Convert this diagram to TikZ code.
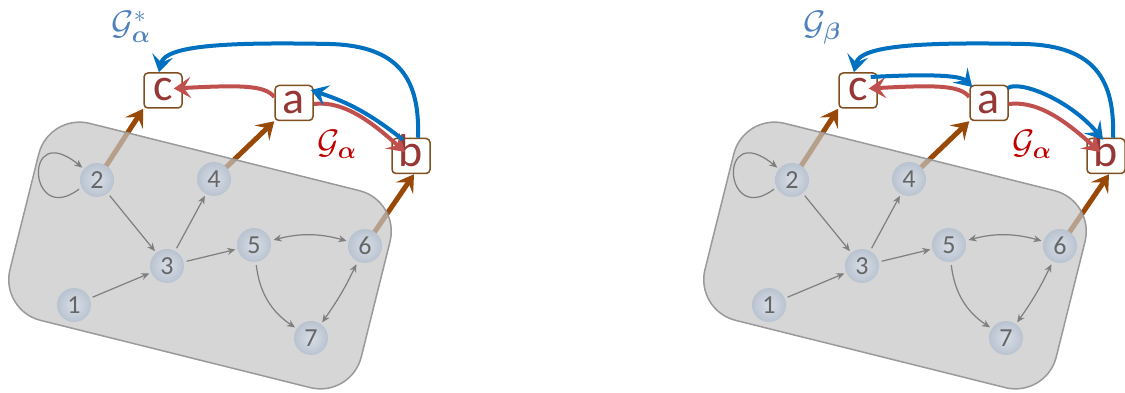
\RequirePackage{fix-cm}
\documentclass[tikz,border=0pt]{standalone}
\usepackage{amsmath}
\usepackage{fontspec}
\setmainfont{Carlito}
\usetikzlibrary{arrows.meta}
\definecolor{bluea}{HTML}{0070C0}
\definecolor{reda}{HTML}{C0504D}
\definecolor{browna}{HTML}{984807}
\definecolor{boxbrown}{HTML}{7F4F1F}
\definecolor{boxtext}{HTML}{953735}
\definecolor{gred}{HTML}{C00000}
\definecolor{gblue}{HTML}{4F81BD}
\definecolor{regfill}{HTML}{C4C4C4}
\definecolor{regdraw}{HTML}{9A9A9A}
\definecolor{vfillin}{HTML}{D8DEE7}
\definecolor{vfillout}{HTML}{B9C3D0}
\definecolor{numgray}{HTML}{666666}
\definecolor{edgegray}{HTML}{7F7F7F}
\pgfdeclarelayer{arr}
\pgfdeclarelayer{reg}
\pgfsetlayers{arr,reg,main}
\tikzset{
  gtip/.tip={Stealth[length=8pt,width=7pt]},
  btip/.tip={Stealth[length=17pt,width=21pt,inset=7pt]},
  vert/.style={circle, inner sep=0pt, minimum size=34pt, inner color=vfillin, outer color=vfillout,
    font=\fontsize{26}{26}\selectfont, text=numgray},
  lbox/.style={draw=boxbrown, line width=1.5pt, fill=white, rounded corners=4pt,
    minimum width=38pt, minimum height=35pt, inner sep=0pt, text height=28pt, text depth=7pt,
    font=\fontsize{46}{46}\selectfont, text=boxtext},
  region/.style={draw=regdraw, line width=1.5pt, fill=regfill, fill opacity=0.7, rotate=-14,
    minimum width=362pt, minimum height=203pt, rounded corners=42pt, inner sep=0pt},
  gedge/.style={draw=edgegray, line width=1.2pt, shorten <=3pt, shorten >=2pt},
  brownarr/.style={draw=browna, line width=5pt, -btip},
  redarr/.style={draw=reda, line width=4pt, -btip},
  bluearr/.style={draw=bluea, line width=4pt, -btip},
  glab/.style={inner sep=0pt, font=\fontsize{34}{34}\selectfont},
}
\newcommand\drawpanel[3]{%
  \node[vert] (#1n1) at (74,-305) {1};
  \node[vert] (#1n2) at (97,-180) {2};
  \node[vert] (#1n3) at (167,-266) {3};
  \node[vert] (#1n4) at (214,-179) {4};
  \node[vert] (#1n5) at (254,-245) {5};
  \node[vert] (#1n6) at (365,-246) {6};
  \node[vert] (#1n7) at (311,-338) {7};
  \node[lbox] (#1c) at (163,-90.5) {c};
  \node[lbox] (#1a) at (294,-103) {a};
  \node[lbox] (#1b) at (411,-156) {b};
  \begin{pgfonlayer}{reg}
    \node[region] (#1reg) at (200,-255.5) {};
  \end{pgfonlayer}
  \begin{pgfonlayer}{arr}
    \draw[brownarr] (#1n2.center) -- (#1c.south west);
    \draw[brownarr] (#1n4.center) -- (#1a.south west);
    \draw[brownarr] (#1n6.center) -- ([xshift=3pt]#1b.south);
  \end{pgfonlayer}
  \draw[gedge,-gtip] (#1n1) -- (#1n3);
  \draw[gedge,-gtip] (#1n2) -- (#1n3);
  \draw[gedge,-gtip] (#1n3) -- (#1n4);
  \draw[gedge,-gtip] (#1n3) -- (#1n5);
  \draw[gedge,gtip-gtip] (#1n5) to[bend left=15] (#1n6);
  \draw[gedge,-gtip] (#1n5) to[bend right=25] (#1n7);
  \draw[gedge,gtip-gtip] (#1n6) to[bend left=5] (#1n7);
  \draw[gedge,-gtip] (#1n2.205) .. controls (28,-228) and (22,-118) .. (#1n2.140);
  \draw[redarr] ([yshift=6pt]#1a.west) .. controls (265,-85) and (240,-85) .. ([shift={(-9pt,2pt)}]#1c.east);
  \draw[redarr] ([yshift=-1pt]#1a.east) .. controls (345,-100) and (375,-125) .. ([shift={(-6pt,4pt)}]#1b.center);
  \draw[bluearr] ([xshift=7pt]#1b.north) .. controls (420,-80) and (400,-46) .. (330,-44)
     .. controls (230,-42) and (165,-45) .. ([xshift=-4pt]#1c.north);
  \node[glab, text=gblue] (#1gtop) at (#3) {#2};
  \node[glab, text=gred] (#1galpha) at (337,-144) {$\mathcal{G}_{\boldsymbol{\alpha}}$};
}
\begin{document}
\begin{tikzpicture}[x=1pt,y=1pt]
\useasboundingbox (0,0) rectangle (1125,-393);
\drawpanel{L}{$\mathcal{G}^{*}_{\boldsymbol{\alpha}}$}{131,-27}
\draw[bluearr] ([shift={(-8pt,-2pt)}]Lb.north) to[bend right=10] ([shift={(-3pt,13pt)}]La.east);
\begin{scope}[shift={(695,0)}]
\drawpanel{R}{$\mathcal{G}_{\boldsymbol{\beta}}$}{127,-28}
\draw[bluearr] ([shift={(-7pt,13.5pt)}]Rc.east) .. controls (230,-74) and (265,-75) .. ([shift={(3pt,16pt)}]Ra.west);
\draw[bluearr] ([shift={(-1pt,15pt)}]Ra.east) .. controls (325,-80) and (375,-100) .. ([shift={(-3pt,-2pt)}]Rb.north);
\end{scope}
\end{tikzpicture}
\end{document}
